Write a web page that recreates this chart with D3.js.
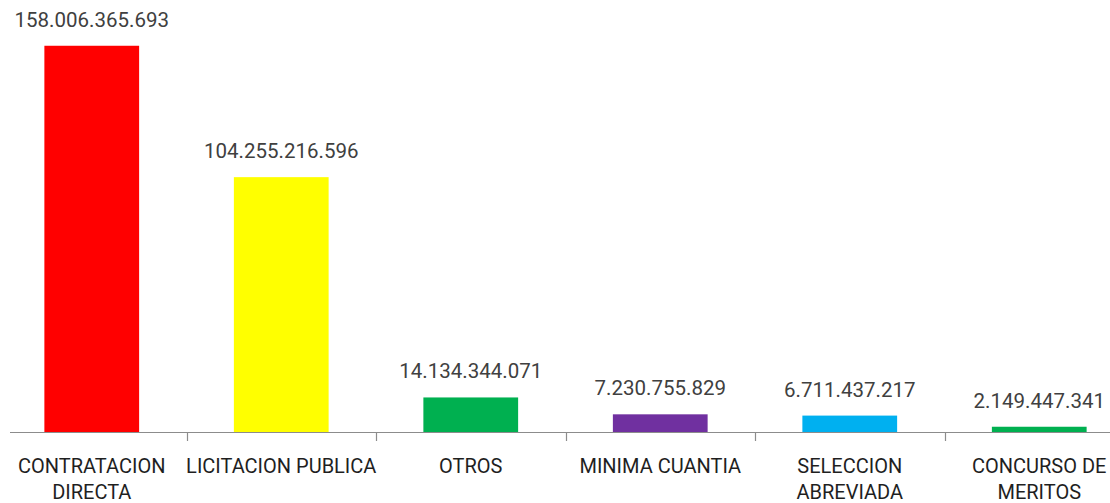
<!DOCTYPE html>
<html>
<head>
<meta charset="utf-8">
<script src="https://cdn.jsdelivr.net/npm/d3@7"></script>
<style>
  body { margin: 0; background: #fff; }
  svg { display: block; }
  text { font-family: Roboto, "Liberation Sans", sans-serif; }
</style>
</head>
<body>
<svg id="chart" width="1110" height="503"></svg>
<script>
/** Chart values **/
var categories = ["CONTRATACION DIRECTA", "LICITACION PUBLICA", "OTROS", "MINIMA CUANTIA", "SELECCION ABREVIADA", "CONCURSO DE MERITOS"];
var values = [158006365693, 104255216596, 14134344071, 7230755829, 6711437217, 2149447341];
var barColors = ["#ff0000", "#ffff00", "#00b050", "#7030a0", "#00b0f0", "#00b050"];

var svg = d3.select("#chart");
var baseY = 432;

/** Scales **/
var xScale = d3.scaleBand()
    .domain(categories)
    .range([-3, 1134])
    .paddingInner(0.5)
    .paddingOuter(0.25);
var yScale = d3.scaleLinear()
    .domain([0, 180e9])
    .range([baseY, baseY - 440]);

/** Format numbers with dots **/
function fmt(v) {
    return d3.format(",")(v).replace(/,/g, ".");
}

/** Bars **/
svg.selectAll("rect.bar")
    .data(values)
    .enter().append("rect")
    .attr("class", "bar")
    .attr("x", function(d, i) { return xScale(categories[i]); })
    .attr("y", function(d) { return yScale(d); })
    .attr("width", xScale.bandwidth())
    .attr("height", function(d) { return baseY - yScale(d); })
    .style("fill", function(d, i) { return barColors[i]; });

/** Value labels **/
svg.selectAll("text.val")
    .data(values)
    .enter().append("text")
    .attr("class", "val")
    .attr("x", function(d, i) { return xScale(categories[i]) + xScale.bandwidth() / 2; })
    .attr("y", function(d) { return yScale(d) - 19; })
    .attr("text-anchor", "middle")
    .style("font-size", "20.5px")
    .style("fill", "#404040")
    .text(function(d) { return fmt(d); });

/** Axis line and ticks **/
var step = xScale.step();
svg.append("line")
    .attr("x1", 10).attr("x2", 1110)
    .attr("y1", baseY + 0.5).attr("y2", baseY + 0.5)
    .style("stroke", "#8c8c8c").style("stroke-width", 1.2);
svg.selectAll("line.tick")
    .data(categories.slice(1))
    .enter().append("line")
    .attr("class", "tick")
    .attr("x1", function(d) { return Math.round(xScale(d) - step * 0.25) + 0.5; })
    .attr("x2", function(d) { return Math.round(xScale(d) - step * 0.25) + 0.5; })
    .attr("y1", baseY).attr("y2", baseY + 9)
    .style("stroke", "#8c8c8c").style("stroke-width", 1.2);

/** Category labels, wrapped to the band **/
var catLabels = svg.selectAll("text.cat")
    .data(categories)
    .enter().append("text")
    .attr("class", "cat")
    .attr("text-anchor", "middle")
    .style("font-size", "20px")
    .style("fill", "#1f1f1f");

catLabels.each(function(d) {
    var el = d3.select(this);
    var cx = xScale(d) + xScale.bandwidth() / 2;
    var words = d.split(" ");
    var lines = [];
    var line = [];
    var tmp = el.append("tspan");
    words.forEach(function(w) {
        line.push(w);
        tmp.text(line.join(" "));
        if (tmp.node().getComputedTextLength() > 200 && line.length > 1) {
            line.pop();
            lines.push(line.join(" "));
            line = [w];
        }
    });
    lines.push(line.join(" "));
    tmp.remove();
    lines.forEach(function(l, i) {
        el.append("tspan")
            .attr("x", cx)
            .attr("y", 473 + i * 26)
            .text(l);
    });
});
</script>
</body>
</html>
